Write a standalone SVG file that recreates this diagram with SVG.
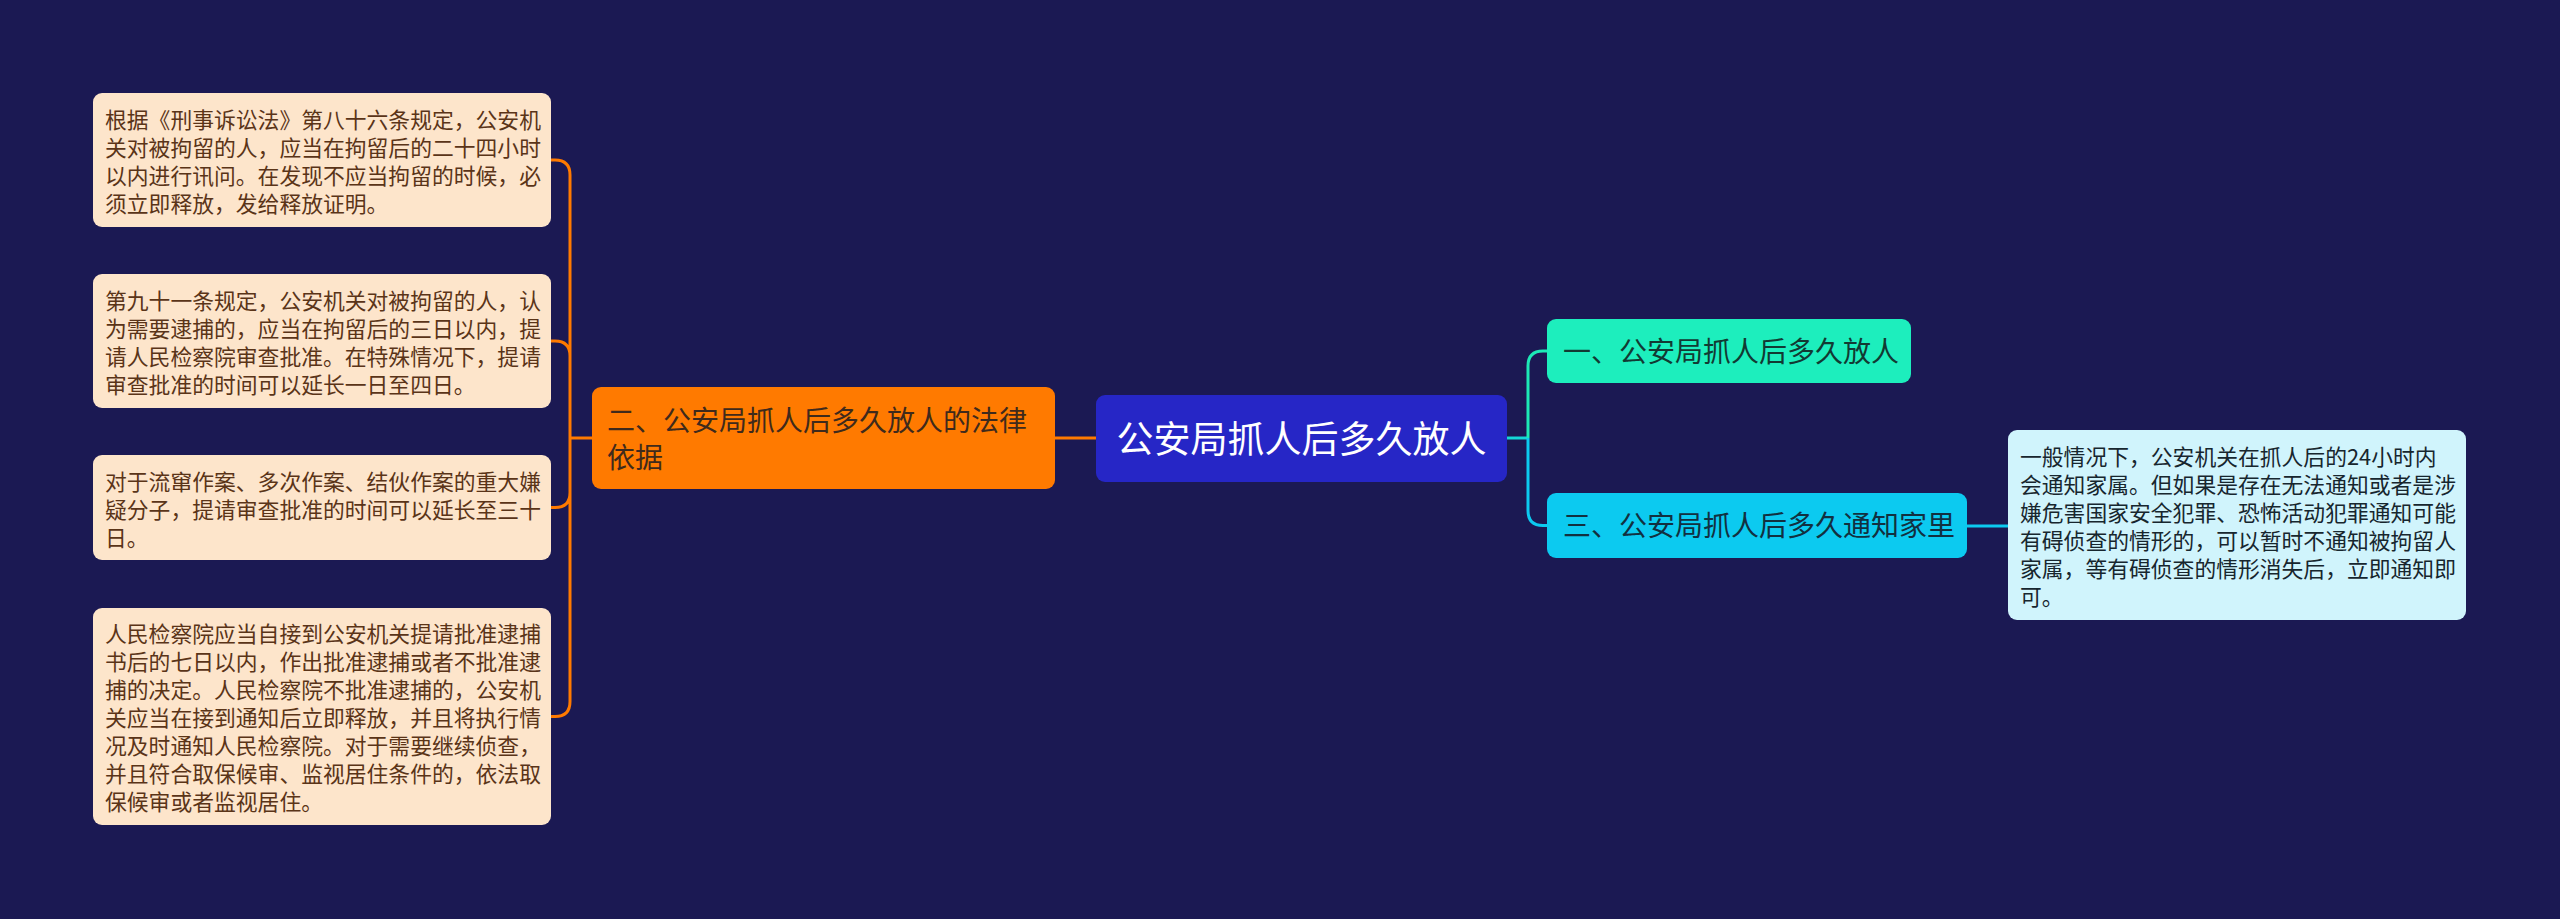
<svg xmlns="http://www.w3.org/2000/svg" width="2560" height="919" viewBox="0 0 2560 919">
<style>
.t{font-family:"Noto Sans CJK SC","Noto Sans",sans-serif}
.d{font-size:21.8px}
.ld{fill:#fde5cb}
.ldt{fill:#5a3418}
.rd{fill:#d0f4fc}
.rdt{fill:#17262e}
.m{font-size:28px}
.c{fill:none;stroke-width:3}
</style>
<rect width="2560" height="919" fill="#1b1953"/>
<g id="connectors">
<path class="c" stroke="#ff7a00" d="M1096,438 H1055"/>
<path class="c" stroke="#ff7a00" d="M592,438 H570 M570,438 V175 Q570,160 555,160 H551 M570,438 V356 Q570,341 555,341 H551 M570,438 V492.5 Q570,507.5 555,507.5 H551 M570,438 V701.5 Q570,716.5 555,716.5 H551"/>
<path class="c" stroke="#14d6d6" d="M1507,438 H1528"/>
<path class="c" stroke="#1de9b6" d="M1528,438 V366 Q1528,351 1543,351 H1547"/>
<path class="c" stroke="#0ccaf0" d="M1528,438 V510.5 Q1528,525.5 1543,525.5 H1547"/>
<path class="c" stroke="#0ccaf0" d="M1967,526 H2008"/>
</g>
<g id="root">
<rect x="1096" y="395" width="411" height="87" rx="9" fill="#2626c6"/>
<text class="t" x="1301.5" y="452.5" font-size="37" fill="#ffffff" text-anchor="middle">公安局抓人后多久放人</text>
</g>
<g id="branch2">
<rect x="592" y="387" width="463" height="102" rx="9" fill="#ff7a00"/>
<text class="t m" fill="#3f2a1c"><tspan x="607" y="430.5">二、公安局抓人后多久放人的法律</tspan><tspan x="607" y="467.5">依据</tspan></text>
</g>
<g id="branch1">
<rect x="1547" y="319" width="364" height="64" rx="9" fill="#1deebd"/>
<text class="t m" x="1563" y="361.5" fill="#123a33">一、公安局抓人后多久放人</text>
</g>
<g id="branch3">
<rect x="1547" y="493" width="420" height="65" rx="9" fill="#0ccaf0"/>
<text class="t m" x="1563" y="536" fill="#123040">三、公安局抓人后多久通知家里</text>
</g>
<g id="leaf1">
<rect class="ld" x="93" y="93" width="458" height="134" rx="9"/>
<text class="t d ldt"><tspan x="105" y="127.5">根据《刑事诉讼法》第八十六条规定，公安机</tspan><tspan x="105" y="155.5">关对被拘留的人，应当在拘留后的二十四小时</tspan><tspan x="105" y="183.5">以内进行讯问。在发现不应当拘留的时候，必</tspan><tspan x="105" y="211.5">须立即释放，发给释放证明。</tspan></text>
</g>
<g id="leaf2">
<rect class="ld" x="93" y="274" width="458" height="134" rx="9"/>
<text class="t d ldt"><tspan x="105" y="308.5">第九十一条规定，公安机关对被拘留的人，认</tspan><tspan x="105" y="336.5">为需要逮捕的，应当在拘留后的三日以内，提</tspan><tspan x="105" y="364.5">请人民检察院审查批准。在特殊情况下，提请</tspan><tspan x="105" y="392.5">审查批准的时间可以延长一日至四日。</tspan></text>
</g>
<g id="leaf3">
<rect class="ld" x="93" y="455" width="458" height="105" rx="9"/>
<text class="t d ldt"><tspan x="105" y="489.5">对于流窜作案、多次作案、结伙作案的重大嫌</tspan><tspan x="105" y="517.5">疑分子，提请审查批准的时间可以延长至三十</tspan><tspan x="105" y="545.5">日。</tspan></text>
</g>
<g id="leaf4">
<rect class="ld" x="93" y="608" width="458" height="217" rx="9"/>
<text class="t d ldt"><tspan x="105" y="641.5">人民检察院应当自接到公安机关提请批准逮捕</tspan><tspan x="105" y="669.5">书后的七日以内，作出批准逮捕或者不批准逮</tspan><tspan x="105" y="697.5">捕的决定。人民检察院不批准逮捕的，公安机</tspan><tspan x="105" y="725.5">关应当在接到通知后立即释放，并且将执行情</tspan><tspan x="105" y="753.5">况及时通知人民检察院。对于需要继续侦查，</tspan><tspan x="105" y="781.5">并且符合取保候审、监视居住条件的，依法取</tspan><tspan x="105" y="809.5">保候审或者监视居住。</tspan></text>
</g>
<g id="leaf5">
<rect class="rd" x="2008" y="430" width="458" height="190" rx="9"/>
<text class="t d rdt"><tspan x="2020" y="464.5">一般情况下，公安机关在抓人后的24小时内</tspan><tspan x="2020" y="492.5">会通知家属。但如果是存在无法通知或者是涉</tspan><tspan x="2020" y="520.5">嫌危害国家安全犯罪、恐怖活动犯罪通知可能</tspan><tspan x="2020" y="548.5">有碍侦查的情形的，可以暂时不通知被拘留人</tspan><tspan x="2020" y="576.5">家属，等有碍侦查的情形消失后，立即通知即</tspan><tspan x="2020" y="604.5">可。</tspan></text>
</g>
</svg>
